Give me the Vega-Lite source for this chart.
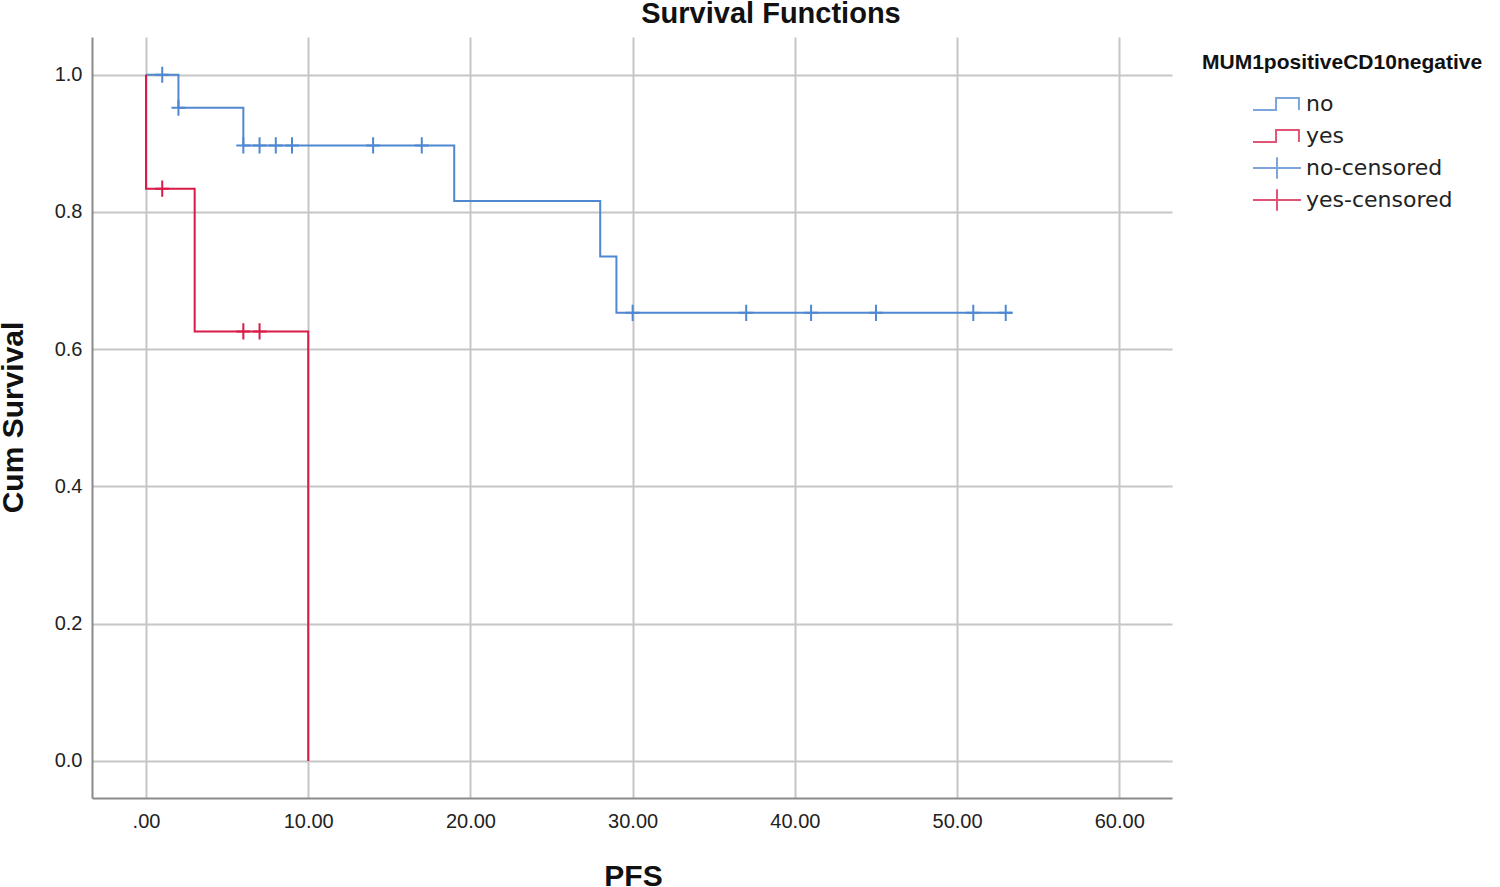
{
  "$schema": "https://vega.github.io/schema/vega-lite/v6.json",
  "width": 1080,
  "height": 761,
  "autosize": {"type": "none"},
  "padding": {"left": 92, "top": 37, "right": 328, "bottom": 89},
  "background": "white",
  "title": {"text": "Survival Functions", "font": "Liberation Sans", "fontSize": 29, "fontWeight": "bold", "color": "#111111", "anchor": "middle", "frame": "group", "dx": 139, "offset": 8},
  "config": {
    "view": {"stroke": null},
    "axis": {"gridColor": "#c6c6c6", "gridWidth": 2, "domainColor": "#8a8a8a", "domainWidth": 2, "ticks": false, "labelFont": "Liberation Sans", "labelFontSize": 20, "labelColor": "#222222", "titleFont": "Liberation Sans", "titleFontSize": 30, "titleFontWeight": "bold", "titleColor": "#111111"}
  },
  "datasets": {
    "curves": [
      {"grp": "no", "seq": 1, "time": 0, "surv": 1.0},
      {"grp": "no", "seq": 2, "time": 2, "surv": 0.952},
      {"grp": "no", "seq": 3, "time": 6, "surv": 0.897},
      {"grp": "no", "seq": 4, "time": 19, "surv": 0.816},
      {"grp": "no", "seq": 5, "time": 28, "surv": 0.735},
      {"grp": "no", "seq": 6, "time": 29, "surv": 0.653},
      {"grp": "no", "seq": 7, "time": 53.4, "surv": 0.653},
      {"grp": "yes", "seq": 1, "time": 0, "surv": 1.0},
      {"grp": "yes", "seq": 2, "time": 0, "surv": 0.834},
      {"grp": "yes", "seq": 3, "time": 3, "surv": 0.626},
      {"grp": "yes", "seq": 4, "time": 10, "surv": 0.0}
    ],
    "censored": [
      {"grp": "no-censored", "time": 1, "surv": 1.0},
      {"grp": "no-censored", "time": 2, "surv": 0.952},
      {"grp": "no-censored", "time": 6, "surv": 0.897},
      {"grp": "no-censored", "time": 7, "surv": 0.897},
      {"grp": "no-censored", "time": 8, "surv": 0.897},
      {"grp": "no-censored", "time": 9, "surv": 0.897},
      {"grp": "no-censored", "time": 14, "surv": 0.897},
      {"grp": "no-censored", "time": 17, "surv": 0.897},
      {"grp": "no-censored", "time": 30, "surv": 0.653},
      {"grp": "no-censored", "time": 37, "surv": 0.653},
      {"grp": "no-censored", "time": 41, "surv": 0.653},
      {"grp": "no-censored", "time": 45, "surv": 0.653},
      {"grp": "no-censored", "time": 51, "surv": 0.653},
      {"grp": "no-censored", "time": 53, "surv": 0.653},
      {"grp": "yes-censored", "time": 1, "surv": 0.834},
      {"grp": "yes-censored", "time": 6, "surv": 0.626},
      {"grp": "yes-censored", "time": 7, "surv": 0.626}
    ]
  },
  "encoding": {
    "x": {
      "field": "time", "type": "quantitative",
      "scale": {"domain": [-3.33, 63.25], "nice": false, "zero": false},
      "axis": {"values": [0, 10, 20, 30, 40, 50, 60], "labelExpr": "datum.value == 0 ? '.00' : format(datum.value, '.2f')", "labelPadding": 13, "title": "PFS", "titleX": 541, "titleY": 78, "titleBaseline": "middle", "titleAlign": "center"}
    },
    "y": {
      "field": "surv", "type": "quantitative",
      "scale": {"domain": [-0.054, 1.055], "nice": false, "zero": false},
      "axis": {"values": [0, 0.2, 0.4, 0.6, 0.8, 1.0], "format": ".1f", "labelPadding": 10, "title": "Cum Survival", "titleX": -79, "titleY": 380, "titleAngle": -90, "titleBaseline": "middle", "titleAlign": "center"}
    },
    "color": {
      "field": "grp", "type": "nominal",
      "scale": {"domain": ["no", "yes", "no-censored", "yes-censored"], "range": ["#4f87d0", "#d81b48", "#4f87d0", "#d81b48"]},
      "legend": {
        "title": "MUM1positiveCD10negative",
        "orient": "none", "legendX": 1110, "legendY": 15,
        "titleFont": "Liberation Sans", "titleFontSize": 21, "titleFontWeight": "bold", "titleColor": "#111111", "titlePadding": 18, "titleLimit": 500,
        "labelFont": "DejaVu Sans", "labelFontSize": 22, "labelColor": "#222222", "labelLimit": 400,
        "symbolSize": 576, "symbolStrokeWidth": 2, "symbolOffset": 62, "labelOffset": 16, "rowPadding": 2,
        "encode": {"symbols": {"update": {
          "shape": {"signal": "indexof(datum.value, 'censored') >= 0 ? 'M-2,0L2,0M0,-0.9L0,0.9' : 'M0,-0.9M0,0.9M-2,0.5L-0.08,0.5L-0.08,-0.5L1.83,-0.5L1.83,0.5'"},
          "fill": {"value": "transparent"},
          "strokeWidth": {"value": 2},
          "strokeOpacity": {"value": 0.75}
        }}}
      }
    }
  },
  "layer": [
    {
      "data": {"name": "curves"},
      "mark": {"type": "line", "interpolate": "step-after", "strokeWidth": 2},
      "encoding": {"order": {"field": "seq", "type": "quantitative"}}
    },
    {
      "data": {"name": "censored"},
      "mark": {"type": "point", "shape": "M-1,0L1,0M0,-1.15L0,1.15", "size": 196, "filled": false, "strokeWidth": 2, "opacity": 1}
    }
  ]
}
